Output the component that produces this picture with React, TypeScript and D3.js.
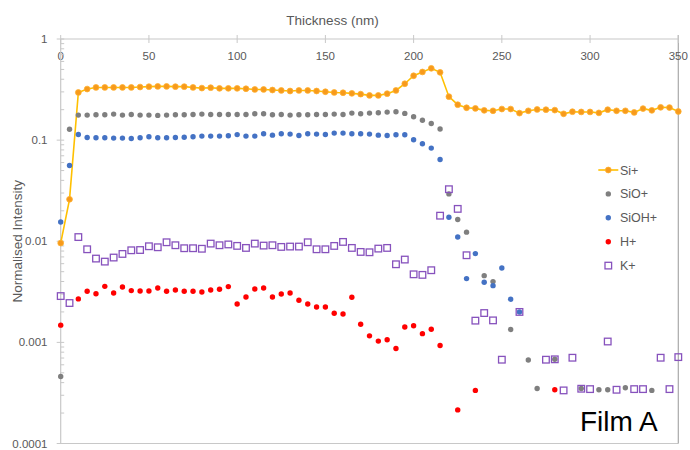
import React from "react";
import * as d3 from "d3";

// Depth profile: thickness (nm) sampled every 5 nm
const thickness = [
  0, 5, 10, 15, 20, 25, 30, 35, 40, 45, 50, 55, 60, 65, 70, 75, 80, 85, 90, 95,
  100, 105, 110, 115, 120, 125, 130, 135, 140, 145, 150, 155, 160, 165, 170, 175,
  180, 185, 190, 195, 200, 205, 210, 215, 220, 225, 230, 235, 240, 245, 250, 255,
  260, 265, 270, 275, 280, 285, 290, 295, 300, 305, 310, 315, 320, 325, 330, 335,
  340, 345, 350,
];

const siPlus = [
  0.0096, 0.026, 0.296, 0.32, 0.332, 0.332, 0.332, 0.332, 0.332, 0.335, 0.338, 0.34,
  0.34, 0.338, 0.338, 0.332, 0.327, 0.33, 0.325, 0.325, 0.325, 0.322, 0.317, 0.317,
  0.313, 0.31, 0.306, 0.31, 0.31, 0.306, 0.301, 0.296, 0.294, 0.29, 0.285, 0.277,
  0.277, 0.288, 0.31, 0.361, 0.433, 0.472, 0.513, 0.468, 0.269, 0.224, 0.209, 0.206,
  0.197, 0.195, 0.203, 0.203, 0.185, 0.195, 0.201, 0.2, 0.198, 0.182, 0.191, 0.19,
  0.19, 0.186, 0.2, 0.195, 0.195, 0.188, 0.205, 0.197, 0.211, 0.21, 0.192,
];

const sioPlus = [
  0.00046, 0.128, 0.1768, 0.1768, 0.1781, 0.1781, 0.1809, 0.1768, 0.1795, 0.1768,
  0.1768, 0.1755, 0.1768, 0.1781, 0.1781, 0.1795, 0.1809, 0.1795, 0.1795, 0.1795,
  0.1795, 0.1795, 0.1823, 0.1823, 0.1781, 0.1795, 0.1768, 0.1781, 0.1781, 0.1795,
  0.1795, 0.1809, 0.1795, 0.185, 0.1823, 0.185, 0.1865, 0.1893, 0.1908, 0.1837,
  0.17, 0.157, 0.146, 0.129, 0.0294, 0.0164, 0.0123, null, 0.00457, 0.00399, null,
  0.00134, null, 0.00067, 0.00035, null, 0.00068, null, null, 0.00035, null, 0.00034,
  0.00034, null, 0.000356, null, null, 0.000335, null, null, null,
];

const siohPlus = [
  0.0155, 0.0561, 0.1138, 0.106, 0.1054, 0.1054, 0.1047, 0.1047, 0.1039, 0.1054,
  0.108, 0.1054, 0.1054, 0.106, 0.1067, 0.108, 0.1096, 0.1096, 0.1096, 0.1104,
  0.1134, 0.1096, 0.1096, 0.1156, 0.112, 0.1156, 0.1147, 0.1112, 0.1156, 0.1147,
  0.1138, 0.1173, 0.1173, 0.1156, 0.1156, 0.1147, 0.112, 0.1112, 0.1129, 0.1129,
  0.1008, 0.092, 0.0834, 0.0644, 0.0173, 0.011, 0.00427, 0.00755, 0.00393, 0.00364,
  0.00544, 0.00267, 0.002, null, null, null, null, null, null, null, null, null, null,
  null, null, null, null, null, null, null, null,
];

const hPlus = [
  0.00148, null, 0.00269, 0.0032, 0.00303, 0.00358, 0.00308, 0.00353, 0.00325,
  0.00322, 0.00322, 0.00345, 0.0032, 0.0033, 0.0032, 0.0032, 0.00315, 0.0033,
  0.00335, 0.00356, 0.0024, 0.00281, 0.00337, 0.00345, 0.00281, 0.00301, 0.00308,
  0.00261, 0.0024, 0.00224, 0.00224, 0.00194, 0.00191, 0.00279, 0.00151, 0.00116,
  0.00103, 0.00106, 0.00087, 0.00142, 0.00146, 0.00122, 0.00135, 0.00093, null,
  0.000215, null, 0.000335, null, null, null, null, null, null, null, null, 0.00034,
  null, null, null, null, null, null, null, null, null, null, null, null, null, null,
];

const kPlus = [
  0.00287, 0.00245, 0.011, 0.00833, 0.00674, 0.00629, 0.0069, 0.00749, 0.00814,
  0.00819, 0.00892, 0.00872, 0.00977, 0.00913, 0.00853, 0.00853, 0.00843, 0.00948,
  0.00913, 0.0093, 0.009, 0.00859, 0.00948, 0.00906, 0.00913, 0.00879, 0.00886,
  0.00886, 0.00977, 0.00833, 0.00833, 0.00899, 0.00985, 0.00859, 0.00784, 0.00778,
  0.00846, 0.00859, 0.00592, 0.00659, 0.00471, 0.00465, 0.00517, 0.0179, 0.0327,
  0.0209, 0.00727, 0.00164, 0.00195, 0.00165, 0.000674, null, 0.002, null, null,
  0.000674, 0.00068, 0.000335, 0.000705, 0.000348, 0.000345, null, 0.00102, 0.00034,
  null, 0.000345, 0.000345, null, 0.000705, 0.000345, 0.000715,
];

const xTicks = [0, 50, 100, 150, 200, 250, 300, 350];
const yTicks = [1, 0.1, 0.01, 0.001, 0.0001];
const yTickLabels = ["1", "0.1", "0.01", "0.001", "0.0001"];
const legendNames = ["Si+", "SiO+", "SiOH+", "H+", "K+"];

const FONT = "'Liberation Sans', Arial, sans-serif";
const TEXT = "#595959";
const AXIS = "#c8c8c8";

const SI_LINE = "#ffc000";
const SI_FILL = "#f79a1c";
const SI_STROKE = "#ffb02e";
const GRAY = "#7f7f7f";
const BLUE = "#4472c4";
const RED = "#ff0000";
const PURPLE = "#8752bd";

type Pt = { t: number; v: number };

function pts(values: (number | null)[]): Pt[] {
  const out: Pt[] = [];
  values.forEach((v, i) => {
    if (v != null) out.push({ t: thickness[i], v });
  });
  return out;
}

export default function App() {
  const left = 60.7;
  const right = 678.3;
  const top = 39;
  const bottom = 443.5;

  const x = d3.scaleLinear().domain([0, 350]).range([left, right]);
  const y = d3.scaleLog().domain([0.0001, 1]).range([bottom, top]);

  const siPts = pts(siPlus);
  const line = d3
    .line<Pt>()
    .x((d) => x(d.t))
    .y((d) => y(d.v));

  const minor: number[] = [];
  [0.0001, 0.001, 0.01, 0.1].forEach((d) => {
    for (let k = 2; k <= 9; k++) minor.push(k * d);
  });

  const dot = (values: (number | null)[], color: string, key: string) =>
    pts(values).map((p, i) => (
      <circle key={key + i} cx={x(p.t)} cy={y(p.v)} r={2.7} fill={color} />
    ));

  const sq = 6.6;
  const legendX = 608.3;
  const legendY0 = 170;
  const legendStep = 23.9;

  return (
    <svg
      width={690}
      height={450}
      style={{ position: "absolute", left: 0, top: 0, background: "#fff" }}
      fontFamily={FONT}
    >
      <rect x={0} y={0} width={690} height={450} fill="#fff" />

      {/* plot frame: bottom and right edges */}
      <line x1={left} x2={right} y1={bottom} y2={bottom} stroke="#c8c8c8" strokeWidth={1.2} />
      <line x1={right} x2={right} y1={top - 4} y2={bottom} stroke="#a9a9a9" strokeWidth={1.2} />

      {/* top x axis */}
      <line x1={left} x2={right} y1={top} y2={top} stroke={AXIS} strokeWidth={1.2} />
      {xTicks.map((t) => (
        <g key={"xt" + t}>
          <line x1={x(t)} x2={x(t)} y1={top - 4} y2={top + 4} stroke={AXIS} strokeWidth={1} />
          <text x={x(t)} y={60} textAnchor="middle" fontSize={11.5} fill={TEXT}>
            {t}
          </text>
        </g>
      ))}
      <text x={332.5} y={25} textAnchor="middle" fontSize={13.5} fill={TEXT}>
        Thickness (nm)
      </text>

      {/* left log axis */}
      <line x1={left} x2={left} y1={top} y2={bottom} stroke={AXIS} strokeWidth={1.2} />
      {minor.map((v, i) => (
        <line key={"mn" + i} x1={left} x2={left + 3.5} y1={y(v)} y2={y(v)} stroke={AXIS} strokeWidth={1} />
      ))}
      {yTicks.map((v, i) => (
        <g key={"yt" + i}>
          <line x1={left - 4} x2={left + 3.5} y1={y(v)} y2={y(v)} stroke={AXIS} strokeWidth={1} />
          <text x={47.5} y={y(v) + 4} textAnchor="end" fontSize={11.5} fill={TEXT}>
            {yTickLabels[i]}
          </text>
        </g>
      ))}
      <text
        transform={`translate(21.5, ${(top + bottom) / 2}) rotate(-90)`}
        textAnchor="middle"
        fontSize={13.5}
        fill={TEXT}
      >
        Normalised Intensity
      </text>

      {/* Si+ line with markers */}
      <path d={line(siPts) || ""} fill="none" stroke={SI_LINE} strokeWidth={1.6} />
      {siPts.map((p, i) => (
        <circle
          key={"si" + i}
          cx={x(p.t)}
          cy={y(p.v)}
          r={2.9}
          fill={SI_FILL}
          stroke={SI_STROKE}
          strokeWidth={0.8}
        />
      ))}

      {dot(sioPlus, GRAY, "sio")}
      {dot(siohPlus, BLUE, "sioh")}
      {dot(hPlus, RED, "h")}

      {pts(kPlus).map((p, i) => (
        <rect
          key={"k" + i}
          x={x(p.t) - sq / 2}
          y={y(p.v) - sq / 2}
          width={sq}
          height={sq}
          fill="none"
          stroke={PURPLE}
          strokeWidth={1.3}
        />
      ))}

      {/* legend */}
      {legendNames.map((name, i) => {
        const ly = legendY0 + i * legendStep;
        let marker: React.ReactNode = null;
        if (i === 0) {
          marker = (
            <g>
              <line x1={legendX - 10} x2={legendX + 10} y1={ly} y2={ly} stroke={SI_LINE} strokeWidth={1.6} />
              <circle cx={legendX} cy={ly} r={2.9} fill={SI_FILL} stroke={SI_STROKE} strokeWidth={0.8} />
            </g>
          );
        } else if (i === 4) {
          marker = (
            <rect
              x={legendX - sq / 2}
              y={ly - sq / 2}
              width={sq}
              height={sq}
              fill="none"
              stroke={PURPLE}
              strokeWidth={1.3}
            />
          );
        } else {
          const c = i === 1 ? GRAY : i === 2 ? BLUE : RED;
          marker = <circle cx={legendX} cy={ly} r={2.7} fill={c} />;
        }
        return (
          <g key={"lg" + i}>
            {marker}
            <text x={620} y={ly + 4.5} fontSize={12.5} fill={TEXT}>
              {name}
            </text>
          </g>
        );
      })}

      <text x={580} y={431} fontSize={28} fill="#000">
        Film A
      </text>
    </svg>
  );
}
